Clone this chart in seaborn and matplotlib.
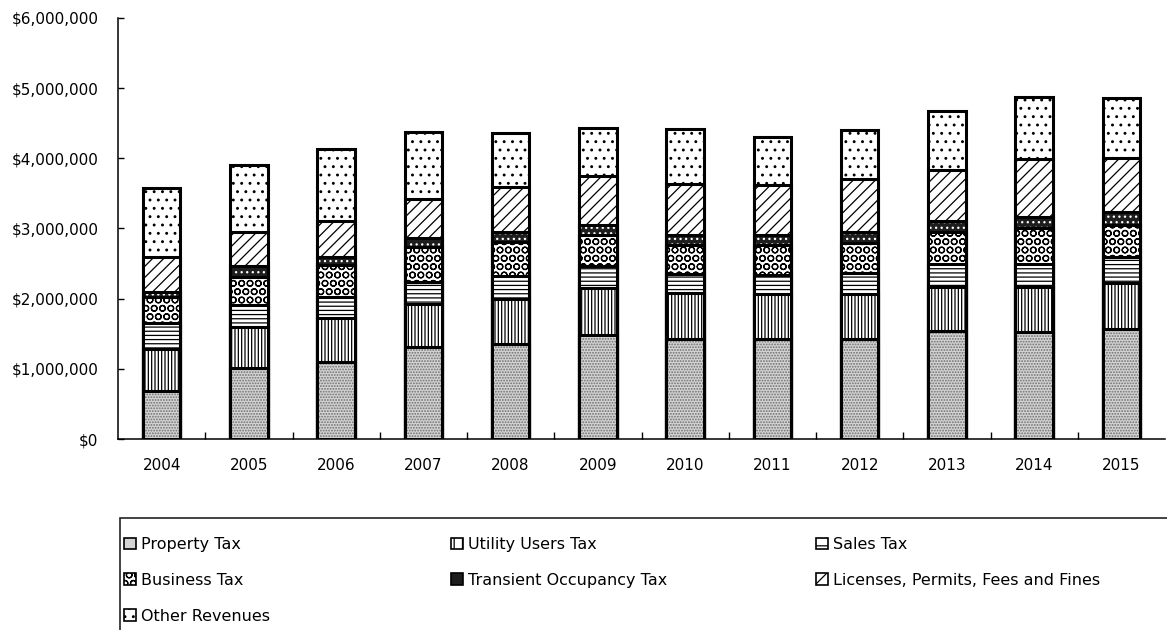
import numpy as np
import pandas as pd
import matplotlib
matplotlib.use("Agg")
import matplotlib.pyplot as plt
import seaborn as sns
from matplotlib.patches import Patch, Rectangle
from matplotlib.ticker import FuncFormatter, FixedLocator

# values, in thousands of dollars
years = ["2004", "2005", "2006", "2007", "2008", "2009",
         "2010", "2011", "2012", "2013", "2014", "2015"]
property_tax = [690, 1010, 1100, 1310, 1360, 1480, 1420, 1420, 1420, 1540, 1530, 1570]
utility_users_tax = [590, 590, 620, 620, 640, 670, 660, 650, 640, 630, 640, 650]
sales_tax = [370, 310, 310, 310, 320, 310, 270, 270, 300, 320, 330, 370]
business_tax = [380, 400, 450, 490, 490, 450, 410, 420, 430, 460, 500, 460]
transient_tax = [70, 150, 120, 140, 140, 140, 150, 150, 160, 150, 170, 190]
licenses_fees = [490, 490, 500, 550, 640, 700, 730, 710, 750, 740, 820, 760]
other_revenues = [990, 950, 1030, 960, 770, 680, 780, 680, 700, 840, 890, 860]

series_names = ["Property Tax", "Utility Users Tax", "Sales Tax", "Business Tax",
                "Transient Occupancy Tax", "Licenses, Permits, Fees and Fines",
                "Other Revenues"]
series_values = [property_tax, utility_users_tax, sales_tax, business_tax,
                 transient_tax, licenses_fees, other_revenues]

# black & white print look: (face, hatch colour, hatch)
styles = [
    ("#d4d4d4", "#6e6e6e", "......"),
    ("white", "black", "|||||"),
    ("white", "black", "----"),
    ("white", "black", "OO"),
    ("#1e1e1e", "white", "..."),
    ("white", "black", "///"),
    ("white", "black", ".."),
]

sns.set_theme(style="white")
plt.rcParams['font.family'] = ['DejaVu Sans']
plt.rcParams['hatch.linewidth'] = 0.9

df = pd.DataFrame({"year": years})
for name, vals in zip(series_names, series_values):
    df[name] = np.array(vals) * 1000

W, H = 1167, 630
fig = plt.figure(figsize=(W / 100, H / 100), dpi=100)
ax = fig.add_axes([118 / W, 1 - 439 / H, (1165 - 118) / W, (439 - 18) / H])

# stacked bars: draw cumulative totals from the top layer down
for i in reversed(range(len(series_names))):
    top = df[series_names[:i + 1]].sum(axis=1)
    face, hcol, hatch = styles[i]
    sns.barplot(x=df["year"], y=top, ax=ax, width=0.43, errorbar=None,
                facecolor=face, edgecolor=hcol, hatch=hatch, linewidth=0)
    sns.barplot(x=df["year"], y=top, ax=ax, width=0.43, errorbar=None,
                facecolor="none", edgecolor="black", linewidth=2.2)

ax.set_xlim(-0.5, len(years) - 0.5)
ax.set_ylim(0, 6_000_000)
ax.yaxis.set_major_locator(FixedLocator(np.arange(0, 6_000_001, 1_000_000)))
ax.yaxis.set_major_formatter(FuncFormatter(lambda v, p: f"${v:,.0f}"))
ax.set_xlabel("")
ax.set_ylabel("")

for side in ["top", "right"]:
    ax.spines[side].set_visible(False)
for side in ["left", "bottom"]:
    ax.spines[side].set_color("black")
    ax.spines[side].set_linewidth(1.1)

ax.tick_params(axis="y", direction="in", length=4, width=1, color="black",
               pad=14, labelsize=11, labelcolor="black", left=True)
ax.tick_params(axis="x", which="major", length=0, pad=14, labelsize=11,
               labelcolor="black")
ax.xaxis.set_minor_locator(FixedLocator(np.arange(0.5, len(years) - 1, 1)))
ax.tick_params(axis="x", which="minor", direction="in", length=5, width=1,
               color="black", bottom=True)

# legend box, cut by the figure edge on the right and bottom
fig.patches.append(Rectangle((120 / W, -0.2), 1.0, (1 - 518 / H) + 0.2,
                             transform=fig.transFigure, facecolor="none",
                             edgecolor="#222222", linewidth=1.2))

def handle(i):
    face, hcol, hatch = styles[i]
    if face == "white":
        return Patch(facecolor=face, edgecolor="black", hatch=hatch[:2], linewidth=1.2)
    return Patch(facecolor=face, edgecolor="black", linewidth=1.2)

columns = [([0, 3, 6], 124), ([1, 4], 451), ([2, 5], 816)]
for idx, xpix in columns:
    fig.legend([handle(i) for i in idx], [series_names[i] for i in idx],
               loc="upper left", bbox_to_anchor=(xpix / W, 1 - 537 / H),
               frameon=False, fontsize=11.5, labelcolor="black",
               handlelength=0.75, handleheight=0.75, handletextpad=0.3,
               labelspacing=1.3, borderpad=0, borderaxespad=0)

fig.savefig("out.png", dpi=100)
